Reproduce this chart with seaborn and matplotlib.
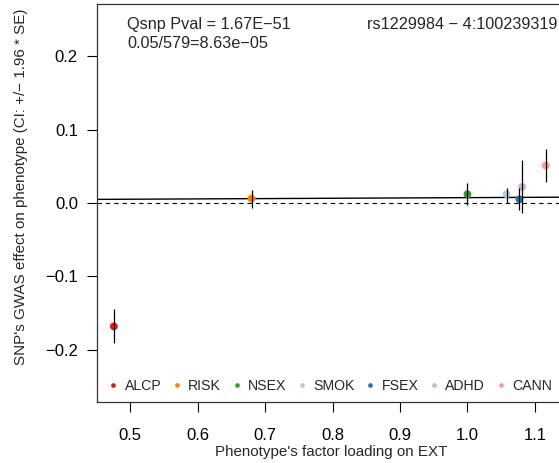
import matplotlib
matplotlib.use("Agg")
import matplotlib.pyplot as plt
import seaborn as sns
import pandas as pd

# Per-phenotype SNP effects and factor loadings
phenotypes = ["ALCP", "RISK", "NSEX", "SMOK", "FSEX", "ADHD", "CANN"]
loadings = [0.476, 0.680, 1.000, 1.058, 1.077, 1.081, 1.116]
effects = [-0.168, 0.006, 0.012, 0.012, 0.005, 0.022, 0.051]
ci_low = [-0.191, -0.007, -0.003, 0.000, -0.0095, -0.013, 0.028]
ci_high = [-0.145, 0.018, 0.027, 0.021, 0.020, 0.0585, 0.073]
colors = ["#E31A1C", "#FF7F00", "#33A02C", "#A6CEE3", "#1F78B4", "#CAB2D6", "#FB9A99"]

# Fitted line through the effects (intercept, slope)
fit_intercept = 0.003
fit_slope = 0.0043

x_ticks = [0.5, 0.6, 0.7, 0.8, 0.9, 1.0, 1.1]
y_ticks = [-0.2, -0.1, 0.0, 0.1, 0.2]

df = pd.DataFrame({"phenotype": phenotypes, "loading": loadings, "effect": effects,
                   "lo": ci_low, "hi": ci_high})

sns.set_style("white")
plt.rcParams["font.family"] = ["Liberation Sans", "DejaVu Sans"]
plt.rcParams["axes.unicode_minus"] = True

fig = plt.figure(figsize=(5.59, 4.63), dpi=100)
ax = fig.add_axes([97 / 559, 1 - 402 / 463, (566 - 97) / 559, (402 - 4) / 463])

xlim = (0.451, 1.146)
ylim = (-0.271, 0.271)

ax.axhline(0, color="black", lw=0.8, ls=(0, (4, 3.5)), zorder=1)
ax.plot(list(xlim), [fit_intercept + fit_slope * v for v in xlim], color="black", lw=1.0, zorder=1)

sns.scatterplot(data=df, x="loading", y="effect", hue="phenotype",
                hue_order=phenotypes, palette=colors, s=32, edgecolor="none",
                linewidth=0, ax=ax, zorder=2)
ax.vlines(df["loading"], df["lo"], df["hi"], color="black", lw=0.9, zorder=3)

ax.set_xlim(*xlim)
ax.set_ylim(*ylim)
ax.set_xticks(x_ticks)
ax.set_xticklabels([f"{t:.1f}" for t in x_ticks])
ax.set_yticks(y_ticks)
ax.set_yticklabels([f"{t:.1f}".replace("-", "\u2212") for t in y_ticks])
ax.tick_params(axis="both", direction="out", length=7.2, width=0.8, labelsize=12,
               colors="black", bottom=True, left=True)
ax.tick_params(axis="y", pad=6.5)
ax.tick_params(axis="x", pad=11.5)

for sp in ax.spines.values():
    sp.set_visible(True)
    sp.set_color("#333333")
    sp.set_linewidth(0.9)

ax.set_xlabel("Phenotype's factor loading on EXT", fontsize=10.9, labelpad=0)
ax.set_ylabel("SNP's GWAS effect on phenotype (CI: +/\u2212 1.96 * SE)", fontsize=10.9, labelpad=8)
ax.xaxis.set_label_coords(331 / 559, 1 - 452 / 463, transform=fig.transFigure)
ax.xaxis.label.set_va("center")
ax.yaxis.set_label_coords(21 / 559, 1 - 187 / 463, transform=fig.transFigure)
ax.yaxis.label.set_va("center")

ax.text(127 / 559, 1 - 29 / 463, "Qsnp Pval = 1.67E\u221251", transform=fig.transFigure,
        fontsize=11.7, va="baseline", ha="left")
ax.text(127 / 559, 1 - 48 / 463, "0.05/579=8.63e\u221205", transform=fig.transFigure,
        fontsize=11.7, va="baseline", ha="left")
ax.text(557 / 559, 1 - 29 / 463, "rs1229984 \u2212 4:100239319", transform=fig.transFigure,
        fontsize=11.7, va="baseline", ha="right")

handles, labels = ax.get_legend_handles_labels()
leg = ax.legend(handles, labels, ncol=7, loc="center", frameon=False,
                bbox_to_anchor=(329 / 559, 1 - 386 / 463), bbox_transform=fig.transFigure,
                fontsize=10.2, markerscale=0.6, handletextpad=0.3, columnspacing=0.6,
                handlelength=1.0, borderpad=0, borderaxespad=0)

fig.savefig("out.png", dpi=100)
